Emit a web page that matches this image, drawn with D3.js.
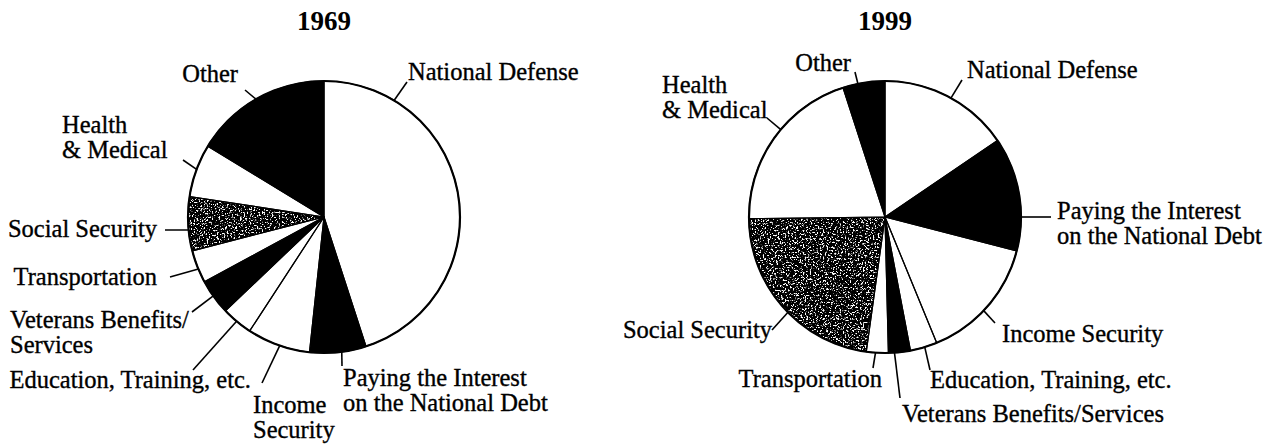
<!DOCTYPE html>
<html>
<head>
<meta charset="utf-8">
<script src="https://cdn.jsdelivr.net/npm/d3@7"></script>
<style>
  body { margin: 0; background: #fff; }
  text { font-family: "Liberation Serif", "DejaVu Serif", serif; fill: #000; }
</style>
</head>
<body>
<div id="chart"></div>
<script>
(function(){
	var width = 1275,
		height = 446;

	// budget shares (percent of outlays)
	var categories = ["National Defense", "Paying the Interest on the National Debt", "Income Security",
		"Education, Training, etc.", "Veterans Benefits/Services", "Transportation",
		"Social Security", "Health & Medical", "Other"];
	var shares1969 = [45.0, 6.7, 7.5, 3.7, 4.2, 3.9, 6.4, 6.3, 16.3];
	var shares1999 = [15.5, 13.5, 14.8, 3.2, 2.6, 2.6, 22.6, 20.2, 5.0];
	var years = ["1969", "1999"];
	// fill style of each slice
	var fills = ["white", "black", "white", "white", "black", "white", "grain", "white", "black"];

	// label layout: angle where the leader leaves the pie, leader end, text spot
	var labels1969 = [
		{lines: ["National Defense"], ang: 31, end: [407, 82], x: 408, y: 80, anchor: "start"},
		{lines: ["Other"], ang: 330, end: [245, 90], x: 238, y: 82, anchor: "end"},
		{lines: ["Health", "& Medical"], ang: 290.5, end: [183, 160], x: 62, y: 133, anchor: "start"},
		{lines: ["Social Security"], ang: 264.5, end: [165, 230], x: 157, y: 237, anchor: "end"},
		{lines: ["Transportation"], ang: 247.5, end: [170, 277], x: 157, y: 285, anchor: "end"},
		{lines: ["Veterans Benefits/", "Services"], ang: 234.5, end: [192, 312], x: 10, y: 328, anchor: "start"},
		{lines: ["Education, Training, etc."], ang: 220, end: [193, 370], x: 251, y: 388, anchor: "end"},
		{lines: ["Income", "Security"], ang: 199, end: [262, 383], x: 253, y: 413, anchor: "start"},
		{lines: ["Paying the Interest", "on the National Debt"], ang: 172.5, end: [342, 366], x: 343, y: 386, anchor: "start"}
	];
	var labels1999 = [
		{lines: ["National Defense"], ang: 29, end: [962, 80], x: 967, y: 78, anchor: "start"},
		{lines: ["Other"], ang: 348.5, end: [855, 72], x: 851, y: 71, anchor: "end"},
		{lines: ["Health", "& Medical"], ang: 310, end: [767, 118], x: 662, y: 93, anchor: "start"},
		{lines: ["Paying the Interest", "on the National Debt"], ang: 90, end: [1051, 217], x: 1057, y: 219, anchor: "start"},
		{lines: ["Income Security"], ang: 133.5, end: [995, 323], x: 1002, y: 342, anchor: "start"},
		{lines: ["Education, Training, etc."], ang: 163, end: [930, 370], x: 930, y: 388, anchor: "start"},
		{lines: ["Veterans Benefits/Services"], ang: 176, end: [900, 398], x: 902, y: 422, anchor: "start"},
		{lines: ["Transportation"], ang: 184, end: [873, 368], x: 882, y: 387, anchor: "end"},
		{lines: ["Social Security"], ang: 225.5, end: [772, 330], x: 772, y: 338, anchor: "end"}
	];

	var pies = [
		{year: years[0], values: shares1969, labels: labels1969, cx: 324, cy: 217},
		{year: years[1], values: shares1999, labels: labels1999, cx: 885, cy: 217}
	];
	var radius = 136;

	var svg = d3.select("#chart")
		.append("svg")
		.attr("width", width)
		.attr("height", height);

	// speckled near-black for social security
	var filter = svg.append("defs").append("filter")
		.attr("id", "grain")
		.attr("x", 0).attr("y", 0).attr("width", 1).attr("height", 1)
		.attr("color-interpolation-filters", "sRGB");
	filter.append("feTurbulence")
		.attr("type", "fractalNoise")
		.attr("baseFrequency", 0.6)
		.attr("numOctaves", 4)
		.attr("seed", 5)
		.attr("result", "noise");
	filter.append("feColorMatrix")
		.attr("in", "noise")
		.attr("type", "matrix")
		.attr("values", "1 0 0 0 0  1 0 0 0 0  1 0 0 0 0  0 0 0 0 1")
		.attr("result", "grey");
	var transfer = filter.append("feComponentTransfer").attr("in", "grey").attr("result", "bw");
	["feFuncR", "feFuncG", "feFuncB"].forEach(function(f){
		transfer.append(f).attr("type", "linear").attr("slope", 9).attr("intercept", -5.0);
	});
	filter.append("feComposite")
		.attr("in", "bw")
		.attr("in2", "SourceAlpha")
		.attr("operator", "in");

	var pie = d3.pie().sort(null).value(function(d){ return d; });
	var arc = d3.arc().innerRadius(0).outerRadius(radius);
	var toRad = Math.PI / 180;

	pies.forEach(function(p){
		var g = svg.append("g")
			.attr("transform", "translate(" + p.cx + "," + p.cy + ")");

		var slices = pie(p.values);

		g.selectAll(".slice")
			.data(slices)
			.enter().append("path")
			.attr("class", "slice")
			.attr("d", arc)
			.attr("fill", function(d, i){ return fills[i] === "grain" ? "#111" : fills[i]; })
			.attr("filter", function(d, i){ return fills[i] === "grain" ? "url(#grain)" : null; });

		// thin slice edges
		g.selectAll(".edge")
			.data(slices)
			.enter().append("path")
			.attr("class", "edge")
			.attr("d", arc)
			.attr("fill", "none")
			.attr("stroke", "#000")
			.attr("stroke-width", 1.2)
			.attr("stroke-linejoin", "round");

		g.append("circle")
			.attr("r", radius)
			.attr("fill", "none")
			.attr("stroke", "#000")
			.attr("stroke-width", 2.2);

		svg.append("text")
			.attr("x", p.cx)
			.attr("y", 30)
			.attr("text-anchor", "middle")
			.attr("font-size", 27)
			.attr("font-weight", "bold")
			.text(p.year);

		p.labels.forEach(function(l){
			var a = l.ang * toRad;
			svg.append("line")
				.attr("x1", p.cx + radius * Math.sin(a))
				.attr("y1", p.cy - radius * Math.cos(a))
				.attr("x2", l.end[0])
				.attr("y2", l.end[1])
				.attr("stroke", "#000")
				.attr("stroke-width", 1.6);

			// one text per line so the lines stay separate
			l.lines.forEach(function(line, i){
				svg.append("text")
					.attr("x", l.x)
					.attr("y", l.y + i * 25)
					.attr("text-anchor", l.anchor)
					.attr("font-size", 24.5)
					.attr("stroke", "#000")
					.attr("stroke-width", 0.35)
					.text(line);
			});
		});
	});
})();
</script>
</body>
</html>
